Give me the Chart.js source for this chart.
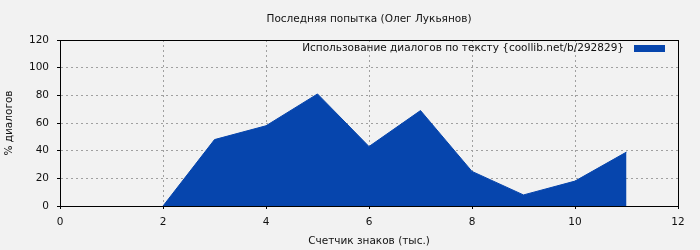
<!DOCTYPE html>
<html>
<head>
<meta charset="utf-8">
<script src="https://cdn.jsdelivr.net/npm/chart.js@4"></script>
<style>
  body { margin: 0; background: #f2f2f2; }
  #wrap { width: 700px; height: 250px; }
</style>
</head>
<body>
<div id="wrap"><canvas id="chart"></canvas></div>
<script>
var chartTitle = "Последняя попытка (Олег Лукьянов)";
var seriesName = "Использование диалогов по тексту {coollib.net/b/292829}";
var xLabel = "Счетчик знаков (тыс.)";
var yLabel = "% диалогов";

var thousands = [2, 3, 4, 5, 6, 7, 8, 9, 10, 11];
var dialogPercent = [0, 48, 58, 81, 43, 69, 25, 8, 18, 39];

var points = [];
for (var i = 0; i < thousands.length; i++) {
  points.push({ x: thousands[i], y: dialogPercent[i] });
}

var fontFamily = "DejaVu Sans";
var fontSize = 10.5;

// background, frame around the plot and the legend drawn inside it
var frame = {
  id: "frame",
  beforeDraw: function(chart) {
    var c = chart.ctx;
    c.save();
    c.fillStyle = "#f2f2f2";
    c.fillRect(0, 0, chart.width, chart.height);
    c.restore();
  },
  afterDatasetsDraw: function(chart) {
    var a = chart.chartArea;
    var c = chart.ctx;
    c.save();
    c.strokeStyle = "#000";
    c.lineWidth = 1;
    c.strokeRect(Math.round(a.left) + 0.5, Math.round(a.top) + 0.5,
                 Math.round(a.right - a.left), Math.round(a.bottom - a.top));

    var boxRight = a.right - 13;
    var boxTop = a.top + 5;
    c.fillStyle = chart.data.datasets[0].backgroundColor;
    c.fillRect(boxRight - 31, boxTop, 31, 7);
    c.fillStyle = "#111";
    c.font = fontSize + "px " + fontFamily;
    c.textAlign = "right";
    c.textBaseline = "middle";
    c.fillText(chart.data.datasets[0].label, boxRight - 41, boxTop + 3.5);
    c.restore();
  }
};

var ctx = document.getElementById("chart").getContext("2d");
new Chart(ctx, {
  type: "line",
  data: {
    datasets: [{
      label: seriesName,
      data: points,
      fill: "origin",
      backgroundColor: "#0645ad",
      borderColor: "#0645ad",
      borderWidth: 1,
      pointRadius: 0,
      tension: 0
    }]
  },
  options: {
    responsive: true,
    maintainAspectRatio: false,
    animation: false,
    layout: { padding: { left: 0, right: 22, top: 0, bottom: 0 } },
    plugins: {
      title: {
        display: true,
        text: chartTitle,
        fullSize: false,
        color: "#111",
        font: { family: fontFamily, size: fontSize, weight: "normal" },
        padding: { top: 13, bottom: 14.4 }
      },
      legend: { display: false },
      tooltip: { enabled: false }
    },
    scales: {
      x: {
        type: "linear",
        min: 0,
        max: 12,
        ticks: { stepSize: 2, color: "#111", font: { family: fontFamily, size: fontSize }, padding: 7 },
        grid: { color: "#a0a0a0", tickBorderDash: [], tickColor: "#000", tickLength: 3 },
        border: { display: true, color: "#000", dash: [2, 3] },
        title: { display: true, text: xLabel, color: "#111", font: { family: fontFamily, size: fontSize }, padding: { top: 12, bottom: 2 } },
        afterFit: function(s) { s.height = 44; }
      },
      y: {
        min: 0,
        max: 120,
        ticks: { stepSize: 20, color: "#111", font: { family: fontFamily, size: fontSize }, padding: 8 },
        grid: { color: "#a0a0a0", tickBorderDash: [], tickColor: "#000", tickLength: 3 },
        border: { display: true, color: "#000", dash: [2, 3] },
        title: { display: true, text: yLabel, color: "#111", font: { family: fontFamily, size: fontSize }, padding: { top: 3, bottom: 0 } },
        afterFit: function(s) { s.width = 60; }
      }
    }
  },
  plugins: [frame]
});
</script>
</body>
</html>
